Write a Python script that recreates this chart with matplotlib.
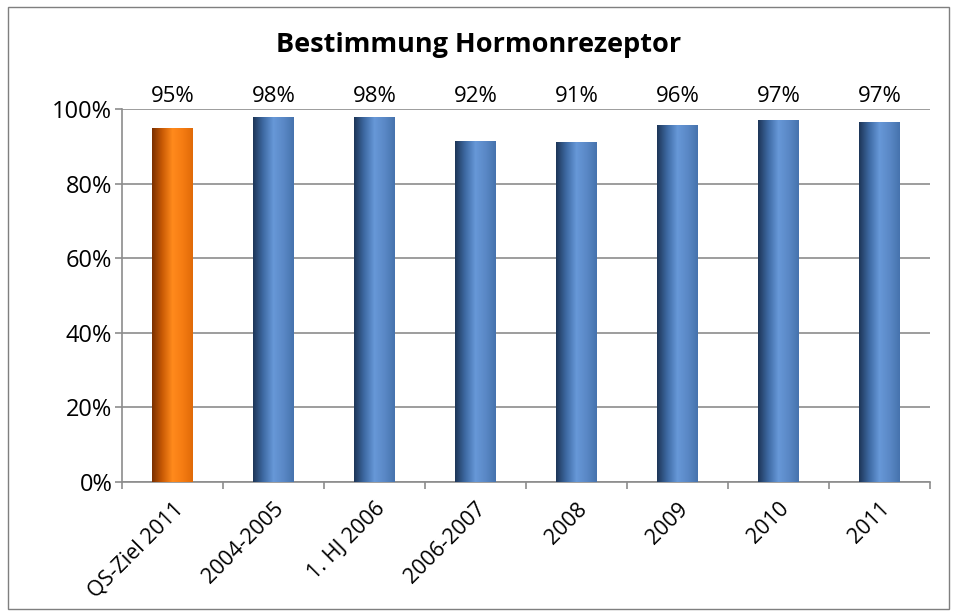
import numpy as np
import matplotlib
matplotlib.use("Agg")
import matplotlib.pyplot as plt
from matplotlib.colors import LinearSegmentedColormap
from matplotlib.patches import Rectangle

categories = ["QS-Ziel 2011", "2004-2005", "1. HJ 2006", "2006-2007", "2008", "2009", "2010", "2011"]
values = [0.949, 0.978, 0.978, 0.916, 0.911, 0.958, 0.970, 0.965]
labels = ["95%", "98%", "98%", "92%", "91%", "96%", "97%", "97%"]
yticks = [0, 0.2, 0.4, 0.6, 0.8, 1.0]
yticklabels = ["0%", "20%", "40%", "60%", "80%", "100%"]

plt.rcParams['font.family'] = ['Open Sans', 'DejaVu Sans']

fig = plt.figure(figsize=(9.57, 6.16), dpi=100)
ax = fig.add_axes([0.1275, 0.218, 0.8443, 0.6046])

blue_cmap = LinearSegmentedColormap.from_list("b", ["#1d3557", "#3e6aa3", "#6798d8", "#5a88c6", "#4673ad"])
orange_cmap = LinearSegmentedColormap.from_list("o", ["#7a3000", "#c95a05", "#ff8a1c", "#f57c12", "#e06a08"])

x = np.arange(len(categories))
width = 0.40
grad = np.linspace(0, 1, 256).reshape(1, -1)
for i, v in enumerate(values):
    cmap = orange_cmap if i == 0 else blue_cmap
    bars = ax.bar(x[i], v, width=width, color="none", zorder=3)
    im = ax.imshow(grad, cmap=cmap, aspect="auto",
                   extent=[x[i] - width / 2, x[i] + width / 2, 0, v], zorder=3)
    im.set_clip_path(bars[0])
    ax.text(x[i], 1.033, labels[i], ha="center", va="center", fontsize=16, color="black")

ax.set_xlim(-0.5, len(categories) - 0.5)
ax.set_ylim(0, 1.0)
ax.set_yticks(yticks)
ax.set_yticklabels(yticklabels, fontsize=17)
ax.set_xticks(x)
ax.set_xticklabels(categories, rotation=45, ha="right", rotation_mode="anchor", fontsize=15.5)
ax.set_xticks(np.arange(len(categories) + 1) - 0.5, minor=True)
ax.tick_params(axis="x", which="major", length=0, pad=12)
ax.tick_params(axis="x", which="minor", length=5, color="#8c8c8c", width=1.2)
ax.tick_params(axis="y", length=5, color="#8c8c8c", width=1.2, pad=2)

ax.grid(axis="y", color="#8c8c8c", linewidth=1.2, zorder=0)
for s in ["top", "right"]:
    ax.spines[s].set_visible(False)
for s in ["left", "bottom"]:
    ax.spines[s].set_color("#8c8c8c")
    ax.spines[s].set_linewidth(1.2)

fig.text(0.5, 0.927, "Bestimmung Hormonrezeptor", ha="center", va="center",
         fontsize=19.5, fontweight="bold")

fig.patches.append(Rectangle((0.008, 0.012), 0.984, 0.976, transform=fig.transFigure,
                             fill=False, edgecolor="#7f7f7f", linewidth=1.0))

fig.savefig("out.png", dpi=100)
